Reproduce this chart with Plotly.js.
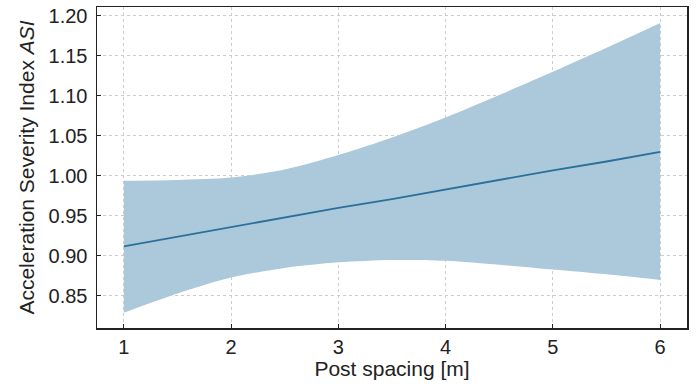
<!DOCTYPE html>
<html>
<head>
<meta charset="utf-8">
<script src="https://cdn.plot.ly/plotly-3.0.1.min.js"></script>
<style>html,body{margin:0;padding:0;background:#fff;}#chart{width:697px;height:388px;}</style>
</head>
<body>
<div id="chart"></div>
<script>
const postSpacing = [1, 1.5, 2, 2.5, 3, 3.5, 4, 4.5, 5, 5.5, 6];
const asiMean  = [0.912, 0.924, 0.936, 0.948, 0.960, 0.971, 0.983, 0.995, 1.007, 1.018, 1.030];
const asiUpper = [0.994, 0.995, 0.998, 1.008, 1.026, 1.048, 1.073, 1.101, 1.130, 1.160, 1.191];
const asiLower = [0.829, 0.853, 0.873, 0.885, 0.892, 0.895, 0.894, 0.889, 0.883, 0.877, 0.870];
const xTicks = [1, 2, 3, 4, 5, 6];
const yTicks = [0.85, 0.90, 0.95, 1.00, 1.05, 1.10, 1.15, 1.20];

const tickFont = {family: 'Liberation Sans, Arial, sans-serif', size: 20, color: '#222'};
const titleFont = {family: 'Liberation Sans, Arial, sans-serif', size: 21, color: '#222'};

const traces = [
  {x: postSpacing, y: asiLower, mode: 'lines', line: {width: 0, shape: 'spline', smoothing: 0.8}, hoverinfo: 'skip', showlegend: false},
  {x: postSpacing, y: asiUpper, mode: 'lines', line: {width: 0, shape: 'spline', smoothing: 0.8}, fill: 'tonexty', fillcolor: '#abc9da', showlegend: false},
  {x: postSpacing, y: asiMean, mode: 'lines', line: {width: 1.8, color: '#2b6f9c'}, showlegend: false}
];

const layout = {
  width: 697, height: 388,
  margin: {l: 97, r: 10, t: 7, b: 60},
  paper_bgcolor: '#fff', plot_bgcolor: '#fff',
  font: tickFont,
  showlegend: false,
  xaxis: {
    range: [0.75, 6.25], tickvals: xTicks, ticktext: xTicks.map(String),
    tickfont: tickFont,
    showgrid: true, gridcolor: '#cccccc', griddash: 'dot', gridwidth: 1,
    zeroline: false, showline: true, mirror: true, linecolor: '#222', linewidth: 1.5,
    ticks: 'inside', ticklen: 4, tickcolor: '#222',
    ticklabelstandoff: 0,
    title: {text: 'Post spacing [m]', font: titleFont, standoff: 2}
  },
  yaxis: {
    range: [0.81, 1.211], tickvals: yTicks, ticktext: yTicks.map(v => v.toFixed(2)),
    tickfont: tickFont,
    showgrid: true, gridcolor: '#cccccc', griddash: 'dot', gridwidth: 1,
    zeroline: false, showline: true, mirror: true, linecolor: '#222', linewidth: 1.5,
    ticks: 'inside', ticklen: 4, tickcolor: '#222',
    ticklabelstandoff: 4,
    title: {text: 'Acceleration Severity Index <i>ASI</i>', font: titleFont, standoff: 8}
  }
};

Plotly.newPlot('chart', traces, layout, {displayModeBar: false, staticPlot: true});
</script>
</body>
</html>
